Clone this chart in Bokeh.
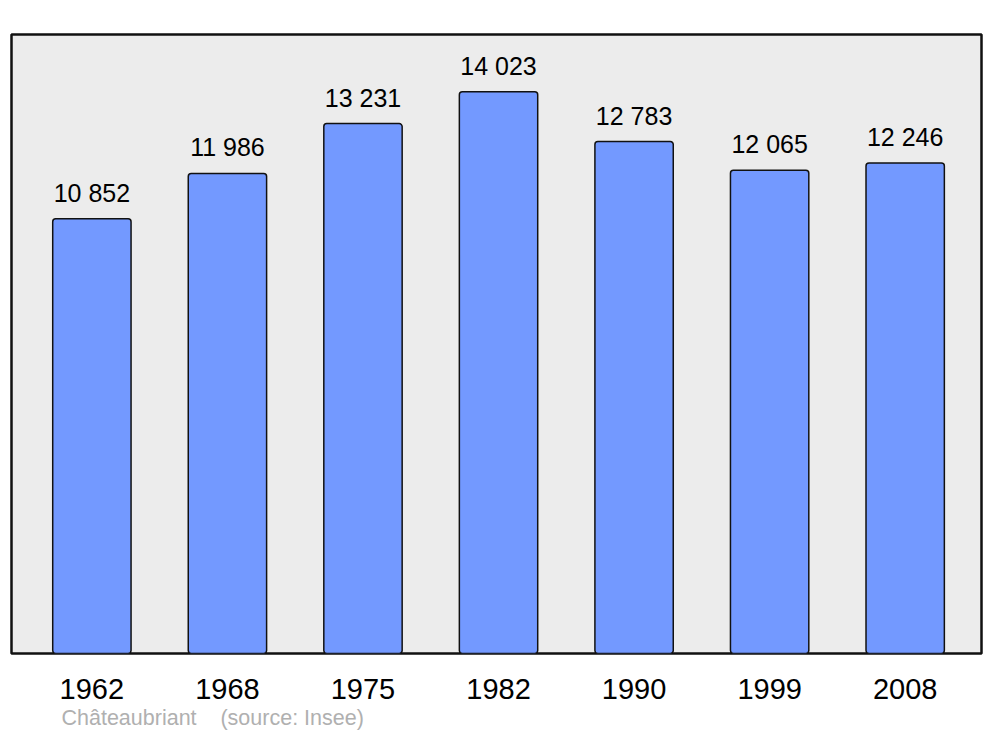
from bokeh.plotting import figure
from bokeh.models import ColumnDataSource, FixedTicker, Range1d, Title
from bokeh.core.properties import value
from bokeh.embed import file_html
from bokeh.resources import INLINE

years = ["1962", "1968", "1975", "1982", "1990", "1999", "2008"]
population = [10852, 11986, 13231, 14023, 12783, 12065, 12246]
labels = ["10 852", "11 986", "13 231", "14 023", "12 783", "12 065", "12 246"]
idx = list(range(len(years)))
commune = "Châteaubriant"
source_note = "(source: Insee)"

src = ColumnDataSource(dict(x=idx, top=population, label=labels))

p = figure(width=984, height=731, output_backend="svg", toolbar_location=None,
           x_range=Range1d(-0.593, 6.563), y_range=Range1d(0, 15455),
           min_border_left=11, min_border_right=3, min_border_top=34, min_border_bottom=0,
           background_fill_color="#ececec", border_fill_color="white")
p.outline_line_color = "#111111"
p.outline_line_width = 2.5
p.grid.visible = False
p.yaxis.visible = False

p.vbar(x="x", top="top", bottom=0, width=0.578, source=src,
       fill_color="#7399ff", line_color="#111111", line_width=1.5, border_radius=3)

p.text(x="x", y="top", text="label", source=src, text_align="center",
       text_baseline="alphabetic", y_offset=-26, text_font=value("Liberation Sans"),
       text_font_size="25px", text_color="black")

ax = p.xaxis[0]
ax.ticker = FixedTicker(ticks=idx)
ax.major_label_overrides = {i: y for i, y in zip(idx, years)}
ax.axis_line_color = None
ax.major_tick_line_color = None
ax.minor_tick_line_color = None
ax.major_label_text_font = "Liberation Sans"
ax.major_label_text_font_size = "29px"
ax.major_label_text_color = "black"
ax.major_label_standoff = 19

note = Title(text=commune + "\u00a0\u00a0\u00a0\u00a0" + source_note, align="left", offset=50,
             text_font="Liberation Sans", text_font_size="21.5px", text_font_style="normal",
             text_color="#b0b0b0", standoff=4)
p.add_layout(note, "below")

open("out.html", "w").write(file_html(p, INLINE))
